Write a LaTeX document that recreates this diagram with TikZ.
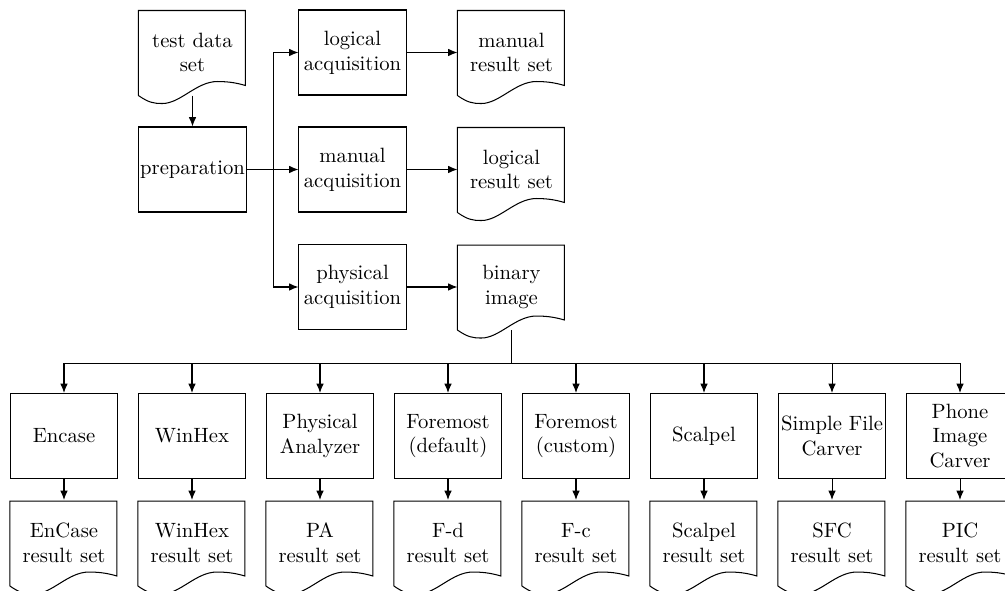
\documentclass[tikz,border=0pt]{standalone}
\usepackage{tikz}
\usetikzlibrary{arrows,arrows.meta,calc,positioning,shapes}
\tikzset{%
	process/.style = {draw, rectangle, minimum width=1.82cm, minimum height=1.445cm, inner sep=1pt, align=center},
	doc/.style     = {rectangle, minimum width=1.82cm, minimum height=1.445cm, inner sep=1pt, align=center},
	arrow/.style   = {-{Latex[length=1.6mm,width=1.3mm]}},
}
% outline of a document node (wavy bottom edge)
\newcommand{\docline}[1]{\draw[shift={(#1.south west)}] (0,0) -- (0,-85) -- (107,-85) -- (107,-10) .. controls (100,-12) and (92,-14) .. (79,-14) .. controls (58,-14) and (42,8) .. (24,8) .. controls (15,8) and (10,7) .. (0,0);}

\begin{document}
\begin{tikzpicture}[x=0.017cm,y=-0.017cm,line width=0.5pt]
		\useasboundingbox (0,0) rectangle (1005,591);
		
		% acquisition part
		\node[doc] (testdata) at (192.5,52.5) {test data\\set};
		\node[process] (prep) at (192.5,169.5) {preparation};
		\node[process] (logacq) at (352.5,52.5) {logical\\acquisition};
		\node[process] (manacq) at (352.5,169.5) {manual\\acquisition};
		\node[process] (phyacq) at (352.5,287) {physical\\acquisition};
		\node[doc] (manres) at (511.5,52.5) {manual\\result set};
		\node[doc] (logres) at (511.5,169.5) {logical\\result set};
		\node[doc] (binary) at (511.5,287) {binary\\image};
		\foreach \d in {testdata,manres,logres,binary} \docline{\d};
		
		\draw[arrow] (testdata.south) -- (prep.north);
		\foreach \a in {logacq,manacq,phyacq} \draw[arrow] (prep.east) -- ++(26,0) |- (\a.west);
		\draw[arrow] (logacq) -- (manres);
		\draw[arrow] (manacq) -- (logres);
		\draw[arrow] (phyacq) -- (binary);
		
		% carving tools
		\foreach \i/\tool/\res in {0/Encase/EnCase, 1/WinHex/WinHex, 2/{Physical\\Analyzer}/PA, 3/{Foremost\\(default)}/F-d, 4/{Foremost\\(custom)}/F-c, 5/Scalpel/Scalpel, 6/{Simple File\\Carver}/SFC, 7/{Phone\\Image\\Carver}/PIC}
		{
			\node[process] (tool\i) at ({64+128*\i},436) {\tool};
			\node[doc] (res\i) at ({64+128*\i},543) {\res\\result set};
			\docline{res\i};
			\draw[arrow] (binary.south) -- ++(0,33) -| (tool\i.north);
			\draw[arrow] (tool\i) -- (res\i);
		}
		
\end{tikzpicture}
\end{document}
